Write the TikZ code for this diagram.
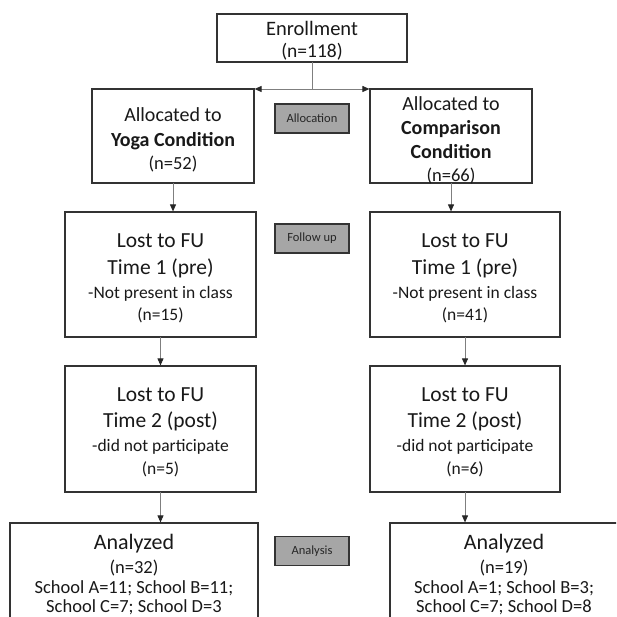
\documentclass[tikz,border=0pt]{standalone}
\usepackage{fontspec}
\setmainfont{Carlito}
\usetikzlibrary{arrows.meta}
\definecolor{boxline}{HTML}{333333}
\definecolor{grayfill}{HTML}{A6A6A6}
\definecolor{conn}{HTML}{7F7F7F}
\newcommand{\fsz}[1]{\fontsize{#1}{22}\selectfont}
\tikzset{
  box/.style={draw=boxline, line width=1.3pt, fill=white, inner sep=0pt, outer sep=0pt},
  txt/.style={align=center, inner sep=0pt, outer sep=0pt, font=\fsz{20}, text=black!90},
  graybox/.style={draw=boxline, line width=1.3pt, fill=grayfill, inner sep=0pt, outer sep=0pt,
    minimum width=74pt, minimum height=29pt, font=\fsz{12.5}, text=black!85},
  conn/.style={draw=conn, line width=0.9pt},
  arr/.style={conn, -{Triangle[length=7pt,width=6pt,color=black!85]}, shorten >=0.6pt}
}
\begin{document}
\begin{tikzpicture}[x=1pt,y=-1pt]
\clip (0,0) rectangle (616,617);
\fill[white] (0,0) rectangle (616,617);
% boxes
\node[box, minimum width=190pt, minimum height=48pt] (enroll) at (312,38) {};
\node[box, minimum width=162pt, minimum height=94pt] (yoga) at (173,136) {};
\node[box, minimum width=162pt, minimum height=94pt] (comp) at (451,136) {};
\node[box, minimum width=191pt, minimum height=125pt] (lost1L) at (160.5,274.5) {};
\node[box, minimum width=190pt, minimum height=125pt] (lost1R) at (465,274.5) {};
\node[box, minimum width=191pt, minimum height=126pt] (lost2L) at (160.5,429) {};
\node[box, minimum width=190pt, minimum height=126pt] (lost2R) at (465,429) {};
\node[box, minimum width=248pt, minimum height=114pt] (anL) at (134,580) {};
\node[box, minimum width=228pt, minimum height=114pt] (anR) at (504,580) {};
\node[graybox] (alloc) at (312,118.5) {Allocation};
\node[graybox] (fu) at (312,238.5) {Follow up};
\node[graybox] (analysis) at (312,551) {Analysis};
% texts
\node[txt] (enrollT) at (312,41) {{\fsz{20.5}Enrollment}\\{\fsz{19.5}(n=118)}};
\node[txt] (yogaT) at (173,140) {Allocated to\\[3pt]\textbf{Yoga Condition}\\[1pt]{\fsz{18.5}(n=52)}};
\node[txt] (compT) at (451,140.5) {Allocated to\\[2pt]\textbf{Comparison}\\[2pt]\textbf{Condition}\\[1pt]{\fsz{18.5}(n=66)}};
\node[txt] (lost1LT) at (160.5,278.5) {{\fsz{21.5}Lost to FU}\\[5pt]{\fsz{21.5}Time 1 (pre)}\\[2pt]{\fsz{17.5}-Not present in class}\\{\fsz{17.5}(n=15)}};
\node[txt] (lost1RT) at (465,278.5) {{\fsz{21.5}Lost to FU}\\[5pt]{\fsz{21.5}Time 1 (pre)}\\[2pt]{\fsz{17.5}-Not present in class}\\{\fsz{17.5}(n=41)}};
\node[txt] (lost2LT) at (160.5,432.5) {{\fsz{21.5}Lost to FU}\\[4pt]{\fsz{21.5}Time 2 (post)}\\[2pt]{\fsz{17.5}-did not participate}\\[1pt]{\fsz{17.5}(n=5)}};
\node[txt] (lost2RT) at (465,432.5) {{\fsz{21.5}Lost to FU}\\[4pt]{\fsz{21.5}Time 2 (post)}\\[2pt]{\fsz{17.5}-did not participate}\\[1pt]{\fsz{17.5}(n=6)}};
\node[txt] (anLT) at (134,575) {{\fsz{22}Analyzed}\\[2pt]{\fsz{18.5}(n=32)}\\[-2pt]{\fsz{18.5}School A=11; School B=11;}\\[-3pt]{\fsz{18.5}School C=7; School D=3}};
\node[txt] (anRT) at (504,575) {{\fsz{22}Analyzed}\\[2pt]{\fsz{18.5}(n=19)}\\[-2pt]{\fsz{18.5}School A=1; School B=3;}\\[-3pt]{\fsz{18.5}School C=7; School D=8}};
% connectors
\coordinate (split) at (enroll.south |- yoga.north);
\draw[conn] (enroll.south) -- (split);
\draw[arr] (split) -- (yoga.north east);
\draw[arr] (split) -- (comp.north west);
\draw[arr] (yoga.south) -- (yoga.south |- lost1L.north);
\draw[arr] (comp.south) -- (comp.south |- lost1R.north);
\draw[arr] (lost1L.south) -- (lost2L.north);
\draw[arr] (lost1R.south) -- (lost2R.north);
\draw[arr] (lost2L.south) -- (lost2L.south |- anL.north);
\draw[arr] (lost2R.south) -- (lost2R.south |- anR.north);
\end{tikzpicture}
\end{document}
